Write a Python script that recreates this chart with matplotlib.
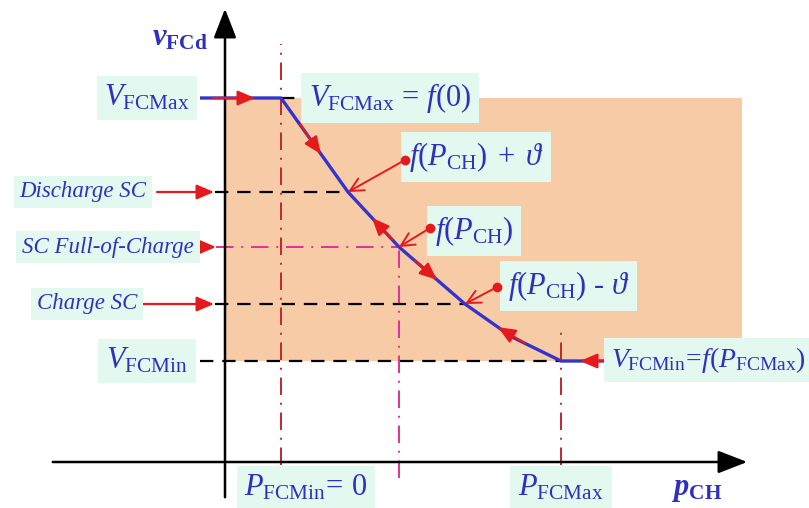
import numpy as np
import matplotlib
matplotlib.use('Agg')
import matplotlib.pyplot as plt
from matplotlib.patches import Rectangle

plt.rcParams['font.family'] = ['Liberation Serif', 'DejaVu Serif']
plt.rcParams['mathtext.fontset'] = 'custom'
plt.rcParams['mathtext.rm'] = 'Liberation Serif'
plt.rcParams['mathtext.it'] = 'Liberation Serif:italic'
plt.rcParams['mathtext.bf'] = 'Liberation Serif:bold'
plt.rcParams['mathtext.bfit'] = 'Liberation Serif:italic:bold'

# Schematic levels (arbitrary units, origin at the axes crossing)
V_FCMAX = 364
V_DIS = 270     # Discharge SC  -> f(P_CH) + theta
V_FULL = 215    # SC Full-of-Charge -> f(P_CH)
V_CH = 158      # Charge SC -> f(P_CH) - theta
V_FCMIN = 101

P_FCMIN = 56
P_REF = 174
P_FCMAX = 336

# Characteristic curve v_FCd = f(p_CH)
curve_p = [-25, P_FCMIN, 123, P_REF, 240, 287, P_FCMAX, 385]
curve_v = [V_FCMAX, V_FCMAX, V_DIS, V_FULL, V_CH, 125, V_FCMIN, V_FCMIN]

# Direction arrows on the curve: (tail p, tip p)
flow_arrows = [(-12, 30), (75, 96), (167, 147), (190, 212), (300, 273)]

BLUE = '#3434CC'
TXT = '#3030C0'
RED = '#E41A1C'
DRED = '#C0282D'
MAG = '#E0309A'
SHADE = '#F8CBA7'
BOX = '#E3F8EE'

fig = plt.figure(figsize=(8.09, 5.08), dpi=100)
ax = fig.add_axes([0, 0, 1, 1])
ax.set_xlim(-225, 584)
ax.set_ylim(-46, 462)
ax.axis('off')

# shaded operating region
ax.add_patch(Rectangle((0, V_FCMIN), 517, V_FCMAX - V_FCMIN,
                       facecolor=SHADE, edgecolor='none', zorder=0))

# axes with arrows
axis_arrow = dict(arrowstyle='-|>,head_length=0.9,head_width=0.35',
                  color='black', lw=1.8, mutation_scale=20)
ax.annotate('', xy=(0, 456), xytext=(0, -38), arrowprops=axis_arrow, zorder=2)
ax.annotate('', xy=(525, 0), xytext=(-175, 0), arrowprops=axis_arrow, zorder=2)

# reference lines
dash = dict(color='black', lw=1.6, dashes=(6, 4), zorder=1)
ax.plot([P_FCMIN, 80], [V_FCMAX, V_FCMAX], **dash)
ax.plot([-10, 123], [V_DIS, V_DIS], **dash)
ax.plot([-10, 240], [V_CH, V_CH], **dash)
ax.plot([-25, P_FCMAX], [V_FCMIN, V_FCMIN], **dash)

dd = dict(lw=1.4, dashes=(9, 4, 1, 4), zorder=1)
ax.plot([P_FCMIN, P_FCMIN], [-3, 418], color=DRED, **dd)
ax.plot([P_FCMAX, P_FCMAX], [-3, 132], color=DRED, **dd)
ax.plot([-9, P_REF], [V_FULL, V_FULL], color=MAG, **dd)
ax.plot([P_REF, P_REF], [-16, V_FULL], color=MAG, **dd)

# curve
ax.plot(curve_p, curve_v, color=BLUE, lw=2.4, solid_capstyle='butt', zorder=3)

red_arrow = dict(arrowstyle='-|>,head_length=0.7,head_width=0.3',
                 color=RED, lw=1.6, mutation_scale=15, shrinkA=0, shrinkB=0)

# flow arrows along the curve
for p0, p1 in flow_arrows:
    v0 = np.interp(p0, curve_p, curve_v)
    v1 = np.interp(p1, curve_p, curve_v)
    ax.annotate('', xy=(p1, v1), xytext=(p0, v0), arrowprops=red_arrow, zorder=4)
# arrow into the right end of the curve
ax.annotate('', xy=(355, V_FCMIN), xytext=(385, V_FCMIN),
            arrowprops=red_arrow, zorder=4)

# arrows from left labels
for x0, x1, v in [(-68, -11, V_DIS), (-25, -9, V_FULL), (-87, -11, V_CH)]:
    ax.annotate('', xy=(x1, v), xytext=(x0, v), arrowprops=red_arrow, zorder=4)

# pointer dots to curve
for dot, tgt in [((180, 302), (123, V_DIS)), ((205, 234), (P_REF, V_FULL)),
                 ((272, 175), (240, V_CH))]:
    ax.plot(*dot, 'o', color=RED, ms=6, zorder=7)
    ax.annotate('', xy=tgt, xytext=dot,
                arrowprops=dict(arrowstyle='->,head_length=0.6,head_width=0.3',
                                color=RED, lw=1.4, mutation_scale=16,
                                shrinkA=0, shrinkB=0), zorder=4)

bb = dict(boxstyle='square,pad=0.25', facecolor=BOX, edgecolor='none')

ax.text(-45, 424, r'$\mathbfit{v}_{\mathbf{FCd}}$', fontsize=22, color=TXT,
        ha='center', va='center')
ax.text(-78, 364, r'$V_{\mathrm{FCMax}}$', fontsize=22, color=TXT,
        ha='center', va='center', bbox=bb, zorder=6)
ax.text(84, 364, r'$V_{\mathrm{FCMax}}\,=\,f(0)$', fontsize=22, color=TXT,
        ha='left', va='center', bbox=bb, zorder=6)
ax.text(184, 305, r'$f(P_{\mathrm{CH}})\;+\;\vartheta$', fontsize=22, color=TXT,
        ha='left', va='center', bbox=bb, zorder=6)
ax.text(210, 231, r'$f(P_{\mathrm{CH}})$', fontsize=22, color=TXT,
        ha='left', va='center', bbox=bb, zorder=6)
ax.text(283, 176, r'$f(P_{\mathrm{CH}})$ - $\vartheta$', fontsize=22, color=TXT,
        ha='left', va='center', bbox=bb, zorder=6)
ax.text(-142, 270, 'Discharge SC', fontsize=16.5, style='italic', color=TXT,
        ha='center', va='center', bbox=bb, zorder=6)
ax.text(-117, 215, 'SC Full-of-Charge', fontsize=16.5, style='italic', color=TXT,
        ha='center', va='center', bbox=bb, zorder=6)
ax.text(-138, 158, 'Charge SC', fontsize=16.5, style='italic', color=TXT,
        ha='center', va='center', bbox=bb, zorder=6)
ax.text(-78, 101, r'$V_{\mathrm{FCMin}}$', fontsize=22, color=TXT,
        ha='center', va='center', bbox=bb, zorder=6)
ax.text(386, 102, r'$V_{\mathrm{FCMin}}\!=\!f(P_{\mathrm{FCMax}})$', fontsize=20,
        color=TXT, ha='left', va='center', bbox=bb, zorder=6)
ax.text(81, -26, r'$P_{\mathrm{FCMin}}\!=\,0$', fontsize=22, color=TXT,
        ha='center', va='center', bbox=bb, zorder=6)
ax.text(P_FCMAX, -26, r'$P_{\mathrm{FCMax}}$', fontsize=22, color=TXT,
        ha='center', va='center', bbox=bb, zorder=6)
ax.text(472, -28, r'$\mathbfit{p}_{\mathbf{CH}}$', fontsize=22, color=TXT,
        ha='center', va='center')

fig.savefig('out.png', dpi=100)
